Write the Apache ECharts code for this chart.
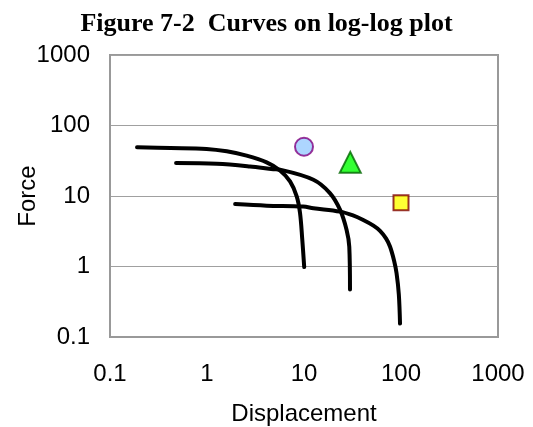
<!DOCTYPE html>
<html>
<head>
<meta charset="utf-8">
<title>Figure 7-2</title>
<script src="https://cdn.jsdelivr.net/npm/echarts@6/dist/echarts.min.js"></script>
<style>
  html, body { margin: 0; padding: 0; background: #fff; }
  #chart { width: 533px; height: 427px; }
</style>
</head>
<body>
<div id="chart"></div>
<script>
// curves: [displacement, force]
var curve10 = [[0.19, 49], [0.42, 48], [0.99, 46.6], [1.6, 43], [2.56, 37.3], [4.12, 30],
  [5.66, 23], [7.18, 16.1], [8.41, 9.9], [9.1, 5.75], [9.6, 2.4], [10.05, 0.98]];
var curve30 = [[0.48, 29.4], [1.26, 28.7], [2.77, 26.3], [4.83, 24], [5.66, 23.6], [12.5, 17],
  [18.5, 11], [23.5, 6.4], [27.5, 3.3], [29.3, 1.9], [29.8, 0.47]];
var curve100 = [[1.95, 7.7], [4.12, 7.3], [9.8, 7.07], [12.5, 6.7], [23.5, 6.0], [32, 5.3],
  [40.8, 4.57], [52, 3.8], [60.8, 3.2], [70, 2.5], [77, 1.92], [85, 1.2], [90, 0.8],
  [95, 0.4], [97.7, 0.155]];
var circlePt = [[10, 50]];
var trianglePt = [[30, 30]];
var squarePt = [[100, 8]];
var tickLabels = ["0.1", "1", "10", "100", "1000"];

var chart = echarts.init(document.getElementById("chart"));

function curve(data) {
  return {
    type: "line",
    data: data,
    smooth: 0.35,
    symbol: "none",
    lineStyle: { color: "#000", width: 4, cap: "round", join: "round" },
    z: 2,
  };
}

function marker(data, symbol, size, fill, border) {
  return {
    type: "scatter",
    data: data,
    symbol: symbol,
    symbolSize: size,
    itemStyle: { color: fill, borderColor: border, borderWidth: 2 },
    z: 3,
  };
}

function tickText(v) {
  return tickLabels[Math.round(Math.log10(v)) + 1];
}

var axisFont = { fontFamily: "Liberation Sans, Arial", fontSize: 24, color: "#000" };

var option = {
  animation: false,
  title: {
    text: "Figure 7-2  Curves on log-log plot",
    left: "center",
    top: 6,
    textStyle: { fontFamily: "Liberation Serif, Times New Roman", fontWeight: "bold", fontSize: 26, color: "#000" },
  },
  grid: {
    left: 110, right: 35, top: 55, bottom: 90,
    outerBoundsMode: "none",
    containLabel: false,
    show: true, borderColor: "#999", borderWidth: 2,
  },
  xAxis: {
    type: "log", logBase: 10, min: 0.1, max: 1000,
    name: "Displacement", nameLocation: "middle", nameGap: 65,
    nameMoveOverlap: false,
    nameTextStyle: axisFont,
    axisLine: { show: true, lineStyle: { color: "#999", width: 2 } },
    axisTick: { show: false },
    splitLine: { show: false },
    axisLabel: Object.assign({ margin: 25, formatter: tickText }, axisFont),
  },
  yAxis: {
    type: "log", logBase: 10, min: 0.1, max: 1000,
    name: "Force", nameLocation: "middle", nameGap: 70,
    nameMoveOverlap: false,
    nameTextStyle: axisFont,
    axisLine: { show: true, lineStyle: { color: "#999", width: 2 } },
    axisTick: { show: false },
    splitLine: { show: true, lineStyle: { color: "#a0a0a0", width: 1 } },
    axisLabel: Object.assign({ margin: 20, formatter: tickText }, axisFont),
  },
  series: [
    curve(curve10),
    curve(curve30),
    curve(curve100),
    marker(circlePt, "circle", 18, "#99ccff", "#800080"),
    marker(trianglePt, "triangle", 21, "#00ff00", "#006600"),
    marker(squarePt, "rect", 15, "#ffff00", "#800000"),
  ],
};

chart.setOption(option);
</script>
</body>
</html>
